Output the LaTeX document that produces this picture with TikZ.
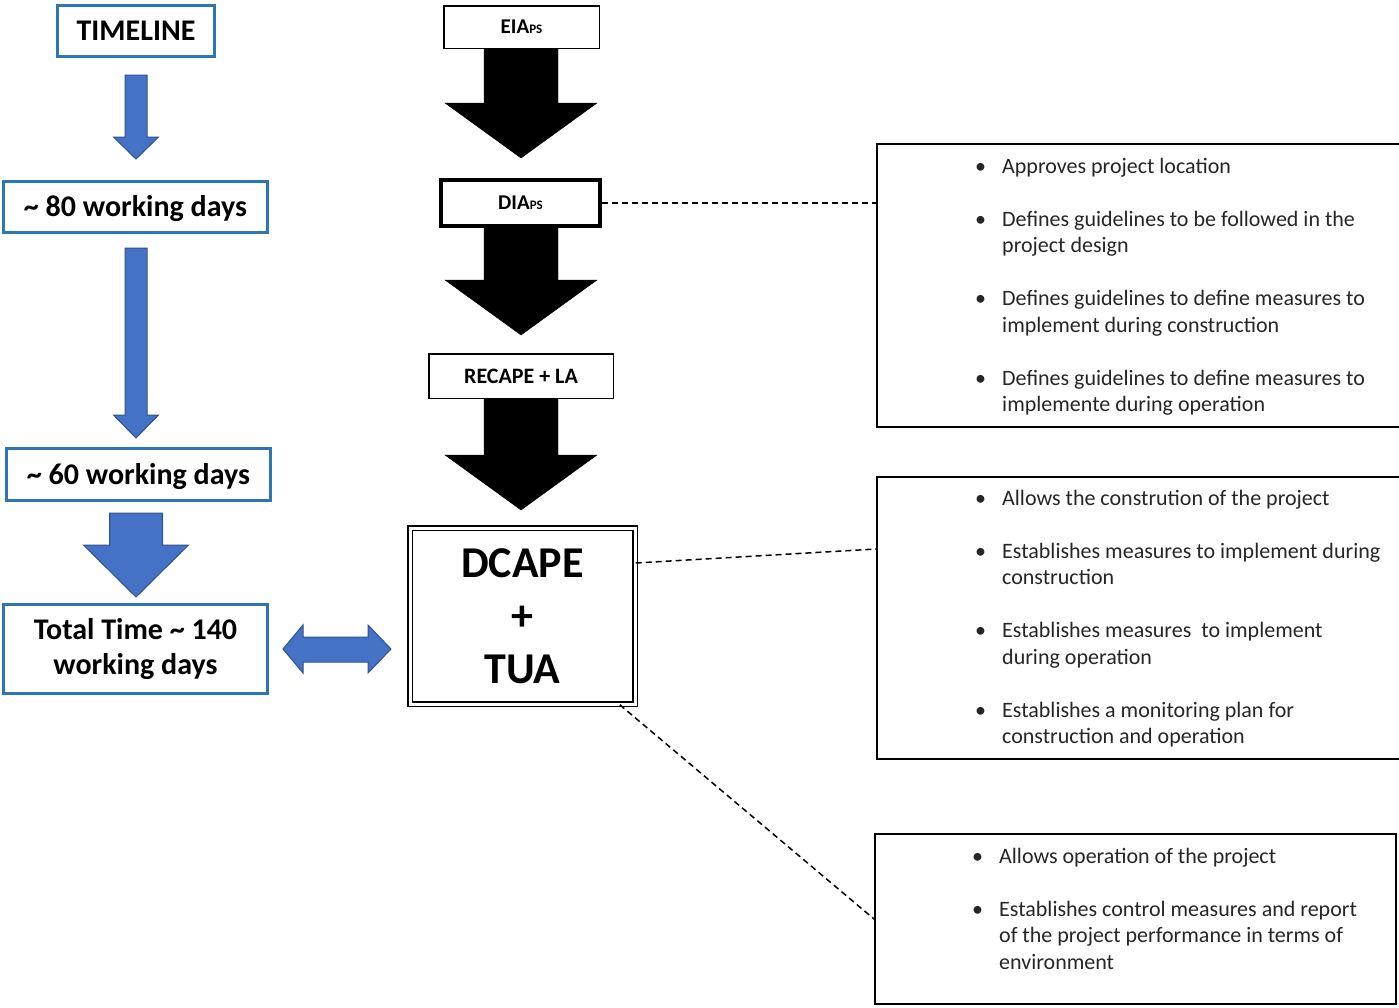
\documentclass[tikz,border=0pt]{standalone}
\usepackage{fontspec}
\setmainfont{Carlito}
\usetikzlibrary{calc}
\definecolor{boxblue}{RGB}{46,117,182}
\definecolor{arrowfill}{RGB}{68,114,196}
\definecolor{arrowedge}{RGB}{47,82,143}
\newcommand\vblockarrow[7]{% style, cx, top, headbase, tip, shafthalf, headhalf
  \draw[#1] (#2-#6,#3) -- (#2+#6,#3) -- (#2+#6,#4) -- (#2+#7,#4) -- (#2,#5) -- (#2-#7,#4) -- (#2-#6,#4) -- cycle;}
\newcommand\ps{{\fontsize{13}{13}\selectfont PS}}
\begin{document}
\begin{tikzpicture}[x=1pt,y=-1pt,
  bluebox/.style={draw=boxblue, line width=3pt, fill=white, inner sep=0pt,
    font=\fontsize{30}{35}\selectfont\bfseries, align=center},
  onelinetext/.style={text height=19.5pt, text depth=0pt},
  blackbox/.style={draw=black, line width=1.5pt, fill=white, inner sep=0pt,
    font=\fontsize{21}{25}\selectfont\bfseries},
  infobox/.style={draw=black, line width=2pt, inner sep=0pt},
  infotext/.style={inner sep=0pt, anchor=base west, font=\fontsize{22}{26.5}\selectfont, text=black!85},
  leader/.style={draw=black, dash pattern=on 6pt off 4pt, line width=1.5pt},
  bluearrow/.style={fill=arrowfill, draw=arrowedge, line width=1pt},
  blackarrow/.style={fill=black}
]
\useasboundingbox (0,0) rectangle (1399,1007);
\fill[white] (0,0) rectangle (1399,1007);

% ---- left timeline column ----
\node[bluebox, onelinetext, minimum width=157pt, minimum height=51pt] (timeline) at (136,31) {TIMELINE};
\node[bluebox, onelinetext, minimum width=264pt, minimum height=51pt] (d80) at (135.5,207) {\textasciitilde{} 80 working days};
\node[bluebox, onelinetext, minimum width=264pt, minimum height=52pt] (d60) at (138.5,474.5) {\textasciitilde{} 60 working days};
\node[bluebox, minimum width=264pt, minimum height=89pt] (total) at (135.5,649) {Total Time \textasciitilde{} 140\\working days};

\vblockarrow{bluearrow}{136}{75}{137}{159}{11}{22.5}
\vblockarrow{bluearrow}{136}{248}{415}{438}{11}{22.5}
\vblockarrow{bluearrow}{136}{513}{545}{597}{26.5}{52.5}
\draw[bluearrow] (283,649) -- (303,625) -- (303,637) -- (368,637) -- (368,625) -- (391,649)
  -- (368,673) -- (368,662) -- (303,662) -- (303,673) -- cycle;

% ---- centre column ----
\vblockarrow{blackarrow}{521}{49}{103}{158}{37}{76}
\vblockarrow{blackarrow}{521}{228}{280}{335}{37}{76}
\vblockarrow{blackarrow}{521}{399}{455}{510}{37}{76}

\node[blackbox, minimum width=155.5pt, minimum height=42.5pt] (eia) at (521.5,27) {EIA\ps};
\node[blackbox, line width=4pt, minimum width=159pt, minimum height=46pt] (dia) at (520.5,203) {DIA\ps};
\node[blackbox, font=\fontsize{22}{26}\selectfont\bfseries, minimum width=184.5pt, minimum height=44.5pt] (recape) at (521,376) {RECAPE + LA};
\node[draw=black, double=white, double distance=3pt, line width=1.5pt, fill=white, inner sep=0pt,
  minimum width=225pt, minimum height=176pt, align=center,
  font=\fontsize{44}{53}\selectfont\bfseries] (dcape) at (522.5,616) {DCAPE\\+\\TUA};

% ---- right information boxes ----
\node[infobox, minimum width=528pt, minimum height=283pt] (b1) at (1141,285.5) {};
\node[infobox, minimum width=528pt, minimum height=282pt] (b2) at (1141,618) {};
\node[infobox, minimum width=521pt, minimum height=170pt] (b3) at (1135.5,919) {};

\node[infotext] (t1) at (975,173) {\begin{tabular}[t]{@{}p{27pt}@{}l@{}}
\textbullet & Approves project location\\[26.5pt]
\textbullet & Defines guidelines to be followed in the\\
 & project design\\[26.5pt]
\textbullet & Defines guidelines to define measures to\\
 & implement during construction\\[26.5pt]
\textbullet & Defines guidelines to define measures to\\
 & implemente during operation
\end{tabular}};
\node[infotext] (t2) at (975,505) {\begin{tabular}[t]{@{}p{27pt}@{}l@{}}
\textbullet & Allows the constrution of the project\\[26.5pt]
\textbullet & Establishes measures to implement during\\
 & construction\\[26.5pt]
\textbullet & Establishes measures\ \ to implement\\
 & during operation\\[26.5pt]
\textbullet & Establishes a monitoring plan for\\
 & construction and operation
\end{tabular}};
\node[infotext] (t3) at (972,863) {\begin{tabular}[t]{@{}p{27pt}@{}l@{}}
\textbullet & Allows operation of the project\\[26.5pt]
\textbullet & Establishes control measures and report\\
 & of the project performance in terms of\\
 & environment
\end{tabular}};

% ---- dashed leaders ----
\draw[leader] (dia.east) -- (dia.east -| b1.west);
\draw[leader] ($(dcape.east)+(0,-53)$) -- ($(b2.west)+(0,-69)$);
\draw[leader] ($(dcape.south east)+(-16,0)$) -- (b3.west);
\end{tikzpicture}
\end{document}
